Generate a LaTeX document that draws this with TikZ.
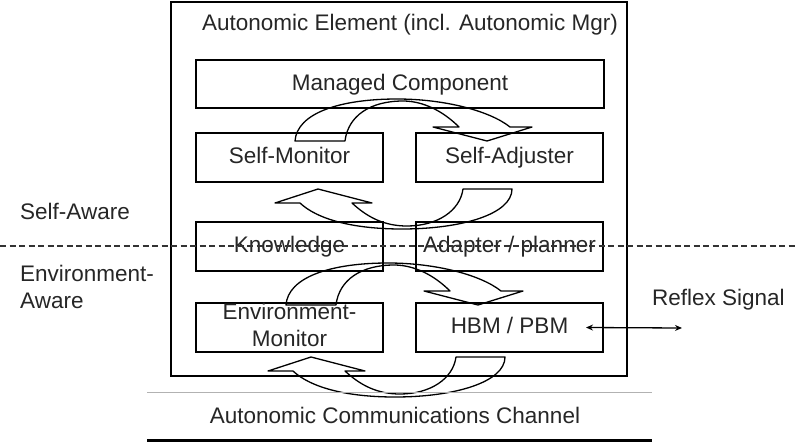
\documentclass[tikz,border=0pt]{standalone}
\usepackage{fontspec}
\setmainfont{Liberation Sans}
\usetikzlibrary{arrows.meta, positioning}

\begin{document}
\begin{tikzpicture}[
    x=1pt, y=-1pt,
    font=\fontsize{22.5}{27}\selectfont,
    box/.style={draw, line width=1.3pt, minimum width=187pt, minimum height=49pt,
                inner sep=0pt, outer sep=0pt, align=center, text=black!85,
                text height=16pt, text depth=4pt},
    frame/.style={draw, line width=1.5pt, inner sep=0pt, outer sep=0pt},
    tag/.style={text=black!85, inner sep=0pt, anchor=base west},
    bandline/.style={draw, line width=1.3pt, line join=round},
    sig/.style={{Stealth[length=7pt, width=6pt]}-{Stealth[length=7pt, width=6pt]}, line width=1.3pt},
    overarrow/.pic={
        \path[bandline] (0,0) .. controls (2,-28) and (45,-42) .. (102,-42)
            .. controls (150,-42) and (195,-30) .. (215,-14)
            -- (237,-14) -- (192,0) -- (138,-14) -- (164,-14)
            .. controls (148,-30) and (128,-40) .. (108,-40)
            .. controls (75,-40) and (53,-25) .. (50,0) -- cycle;
    },
    underarrow/.pic={
        \path[bandline] (0,0) .. controls (0,25) and (-50,40) .. (-110,40)
            .. controls (-160,40) and (-195,30) .. (-212,14)
            -- (-237,14) -- (-194,0) -- (-140,14) -- (-160,14)
            .. controls (-145,28) and (-128,37) .. (-105,37)
            .. controls (-75,37) and (-52,22) .. (-49,0) -- cycle;
    },
]
    \useasboundingbox (0,0) rectangle (798,442);

    %==================== autonomic element ====================
    \node[frame, minimum width=456pt, minimum height=374pt, anchor=north west] (element) at (171,2) {};
    \node[tag, anchor=base] (title) at (410,30) {Autonomic Element (incl. Autonomic Mgr)};

    %==================== boxes ====================
    \node[box, minimum width=408pt, minimum height=48pt, anchor=north west] (managed) at (196,60) {Managed Component};
    \node[box, below=25pt of managed.south west, anchor=north west] (selfmon) {Self-Monitor};
    \node[box, right=33pt of selfmon] (selfadj) {Self-Adjuster};
    \node[box, below=40pt of selfmon] (knowledge) {Knowledge};
    \node[box, right=33pt of knowledge] (adapter) {Adapter / planner};
    \node[box, below=32pt of knowledge, text height=42pt, text depth=4pt] (envmon) {Environment-\\Monitor};
    \node[box, right=33pt of envmon] (hbm) {HBM / PBM};

    %==================== curved loop arrows ====================
    \pic at (295,141) {overarrow};
    \pic at (512,189) {underarrow};
    \pic at (286,305) {overarrow};
    \pic at (505,357) {underarrow};

    %==================== awareness levels ====================
    \draw[line width=1.3pt, dash pattern=on 6pt off 3.5pt, black!80] (0,246) -- (798,246);
    \node[tag] (selfaware) at (20,219) {Self-Aware};
    \node[tag, align=left] (envaware) at (20,308) {Environment-\\Aware};

    %==================== reflex signal ====================
    \node[tag] (reflex) at (652,305) {Reflex Signal};
    \coordinate (reflexend) at (682,328);
    \draw[sig] ([xshift=-17pt]hbm.east) -- (reflexend);

    %==================== channel ====================
    \draw[line width=1pt, black!30] (147,392) -- (652,392);
    \node[tag, anchor=base] (channel) at (395,423) {Autonomic Communications Channel};
    \draw[line width=3pt] (147,440) -- (652,440);

\end{tikzpicture}
\end{document}
